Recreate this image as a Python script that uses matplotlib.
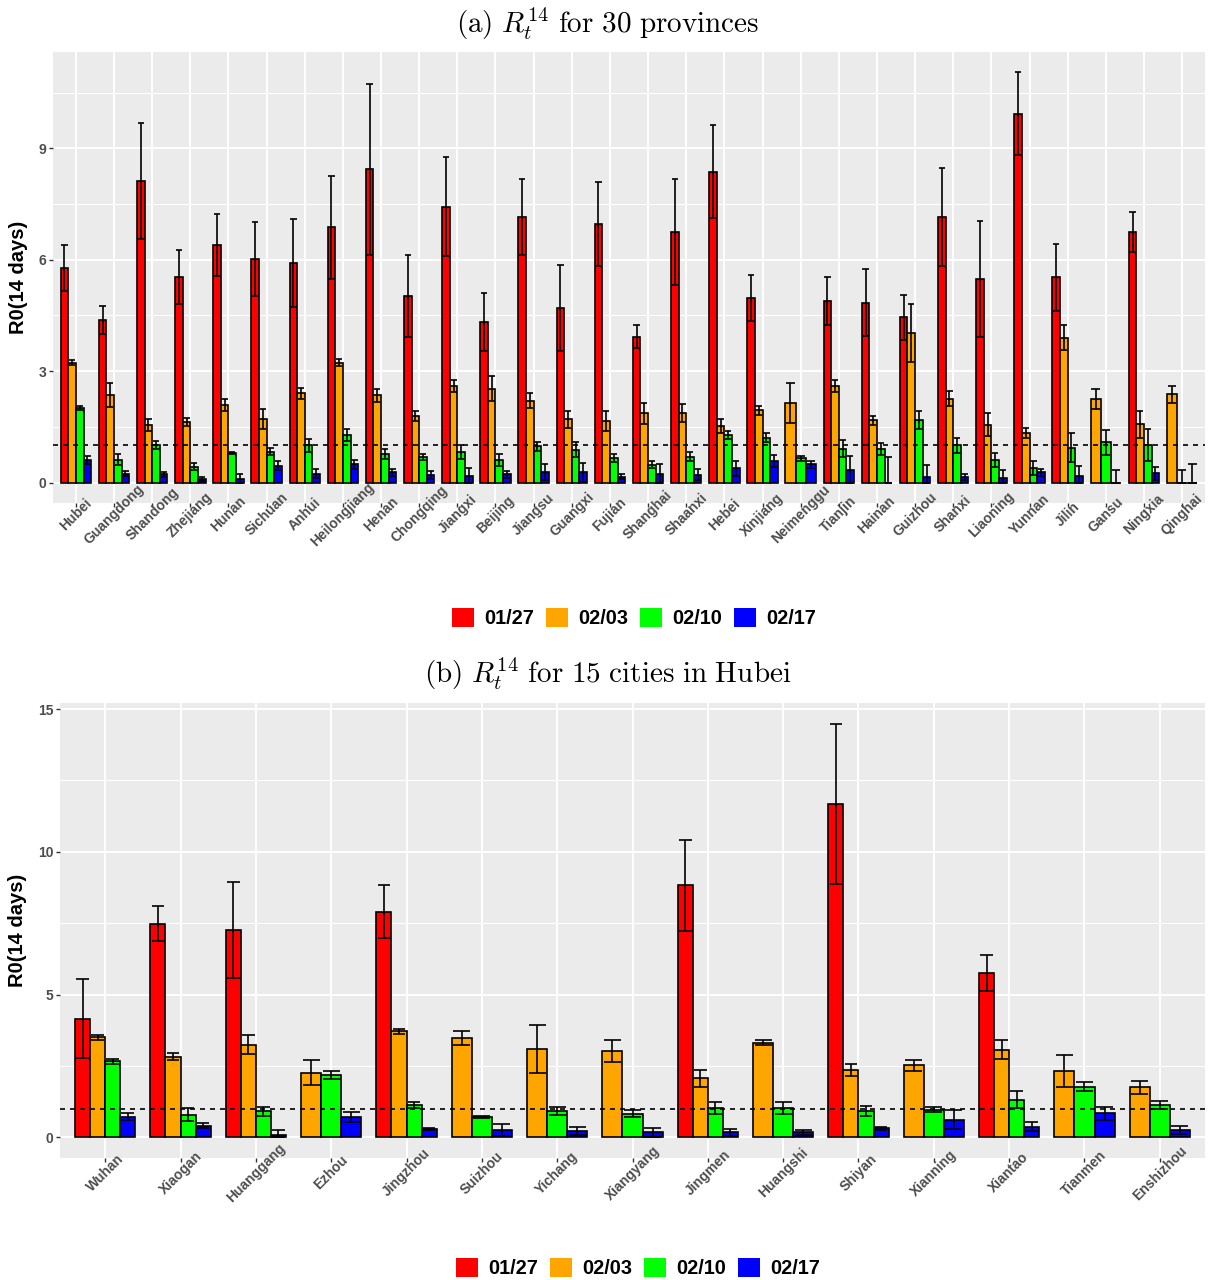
import matplotlib
matplotlib.use("Agg")
import matplotlib.pyplot as plt
from matplotlib.patches import Patch

plt.rcParams['font.family'] = ['Liberation Sans', 'DejaVu Sans']
plt.rcParams['mathtext.fontset'] = 'cm'

# data: (a) 30 provinces
provinces = ["Hubei", "Guangdong", "Shandong", "Zhejiang", "Hunan", "Sichuan", "Anhui",
             "Heilongjiang", "Henan", "Chongqing", "Jiangxi", "Beijing", "Jiangsu", "Guangxi",
             "Fujian", "Shanghai", "Shaanxi", "Hebei", "Xinjiang", "Neimenggu", "Tianjin",
             "Hainan", "Guizhou", "Shanxi", "Liaoning", "Yunnan", "Jilin", "Gansu", "Ningxia",
             "Qinghai"]
prov_0127 = [5.77, 4.37, 8.12, 5.53, 6.39, 6.02, 5.91, 6.87, 8.43, 5.02, 7.43, 4.32, 7.15, 4.71,
             6.97, 3.93, 6.74, 8.37, 4.97, None, 4.88, 4.84, 4.45, 7.15, 5.47, 9.93, 5.53, None,
             6.75, None]
prov_0127_err = [0.62, 0.38, 1.56, 0.73, 0.83, 1.0, 1.19, 1.39, 2.3, 1.11, 1.33, 0.77, 1.02, 1.16,
                 1.13, 0.3, 1.42, 1.25, 0.62, None, 0.65, 0.9, 0.61, 1.31, 1.56, 1.11, 0.9, None,
                 0.53, None]
prov_0203 = [3.23, 2.36, 1.55, 1.63, 2.09, 1.70, 2.40, 3.23, 2.35, 1.79, 2.60, 2.53, 2.20, 1.70,
             1.66, 1.86, 1.88, 1.52, 1.94, 2.14, 2.60, 1.68, 4.03, 2.26, 1.56, 1.34, 3.90, 2.25,
             1.57, 2.37]
prov_0203_err = [0.07, 0.33, 0.17, 0.12, 0.17, 0.27, 0.15, 0.1, 0.18, 0.14, 0.16, 0.34, 0.2, 0.23,
                 0.27, 0.28, 0.24, 0.18, 0.12, 0.53, 0.16, 0.12, 0.78, 0.21, 0.32, 0.14, 0.34, 0.26,
                 0.36, 0.23]
prov_0210 = [2.0, 0.61, 1.01, 0.43, 0.79, 0.83, 1.0, 1.27, 0.76, 0.69, 0.82, 0.61, 0.97, 0.88,
             0.66, 0.48, 0.69, 1.27, 1.21, 0.65, 0.91, 0.91, 1.68, 1.0, 0.61, 0.39, 0.94, 1.08,
             1.0, 0.0]
prov_0210_err = [0.06, 0.15, 0.1, 0.09, 0.02, 0.09, 0.18, 0.16, 0.14, 0.09, 0.18, 0.17, 0.13, 0.2,
                 0.1, 0.09, 0.12, 0.11, 0.13, 0.07, 0.23, 0.16, 0.25, 0.2, 0.18, 0.2, 0.4, 0.34,
                 0.43, 0.34]
prov_0217 = [0.61, 0.24, 0.22, 0.09, 0.09, 0.45, 0.24, 0.49, 0.27, 0.20, 0.18, 0.22, 0.29, 0.27,
             0.16, 0.23, 0.21, 0.38, 0.57, 0.49, 0.34, 0.0, 0.15, 0.15, 0.13, 0.27, 0.18, 0.0,
             0.25, 0.0]
prov_0217_err = [0.1, 0.07, 0.07, 0.06, 0.13, 0.12, 0.12, 0.12, 0.09, 0.1, 0.22, 0.09, 0.22, 0.25,
                 0.06, 0.26, 0.15, 0.2, 0.16, 0.09, 0.38, 0.7, 0.33, 0.09, 0.2, 0.09, 0.27, 0.34,
                 0.18, 0.49]

# data: (b) 15 cities in Hubei
cities = ["Wuhan", "Xiaogan", "Huanggang", "Ezhou", "Jingzhou", "Suizhou", "Yichang",
          "Xiangyang", "Jingmen", "Huangshi", "Shiyan", "Xianning", "Xiantao", "Tianmen",
          "Enshizhou"]
city_0127 = [4.16, 7.48, 7.27, None, 7.90, None, None, None, 8.83, None, 11.69, None, 5.75,
             None, None]
city_0127_err = [1.38, 0.62, 1.68, None, 0.93, None, None, None, 1.6, None, 2.8, None, 0.64,
                 None, None]
city_0203 = [3.50, 2.82, 3.25, 2.27, 3.71, 3.48, 3.09, 3.03, 2.07, 3.32, 2.37, 2.53, 3.07, 2.33, 1.75]
city_0203_err = [0.09, 0.12, 0.33, 0.44, 0.1, 0.23, 0.84, 0.38, 0.29, 0.09, 0.21, 0.19, 0.34,
                 0.55, 0.24]
city_0210 = [2.66, 0.79, 0.91, 2.18, 1.13, 0.72, 0.91, 0.82, 1.03, 1.03, 0.93, 0.97, 1.32, 1.78, 1.13]
city_0210_err = [0.1, 0.22, 0.16, 0.15, 0.09, 0.03, 0.14, 0.12, 0.2, 0.2, 0.17, 0.08, 0.31,
                 0.16, 0.13]
city_0217 = [0.72, 0.41, 0.09, 0.70, 0.28, 0.26, 0.23, 0.17, 0.17, 0.17, 0.31, 0.62, 0.37, 0.84, 0.27]
city_0217_err = [0.12, 0.1, 0.16, 0.17, 0.03, 0.21, 0.14, 0.15, 0.12, 0.1, 0.06, 0.34, 0.15,
                 0.23, 0.14]

dates = ["01/27", "02/03", "02/10", "02/17"]
colors = ["#FF0000", "#FFA500", "#00FF00", "#0000FF"]
GREY_TXT = "#4D4D4D"


def draw_panel(ax, names, series, errors, yticks, xpad):
	ax.set_facecolor("#EBEBEB")
	for s in ax.spines.values():
		s.set_visible(False)

	top = 0
	for i in range(len(names)):
		present = [k for k in range(4) if series[k][i] is not None]
		w = 0.8 / len(present)
		for j, k in enumerate(present):
			x = i - 0.4 + w * (j + 0.5)
			v = series[k][i]
			e = errors[k][i]
			lo = max(0, v - e)
			hi = v + e
			top = max(top, hi)
			ax.bar(x, v, width=w, color=colors[k], edgecolor="black", linewidth=1.2, zorder=2)
			ax.vlines(x, lo, hi, color="black", linewidth=1.2, zorder=3)
			ax.hlines([lo, hi], x - 0.42 * w, x + 0.42 * w, color="black", linewidth=1.2, zorder=3)

	ax.axhline(1, color="black", linewidth=1.2, linestyle=(0, (3, 3)), zorder=4)

	ax.set_yticks(yticks)
	step = yticks[1] - yticks[0]
	ax.set_yticks([t + step / 2 for t in yticks], minor=True)
	ax.set_xticks(range(len(names)))
	ax.set_xticklabels(names, rotation=45, ha="center", va="center", rotation_mode="anchor")

	# limits after the ticks, ggplot style 5% / 0.6 expansion
	ax.set_xlim(-0.6, len(names) - 0.4)
	ax.set_ylim(-0.05 * top, 1.05 * top)

	ax.grid(which="major", color="white", linewidth=1.4, zorder=0)
	ax.grid(which="minor", axis="y", color="white", linewidth=0.7, zorder=0)
	ax.set_axisbelow(True)
	ax.tick_params(axis="both", which="major", length=2.75, width=1, color="#333333",
				labelsize=10, labelcolor=GREY_TXT)
	ax.tick_params(axis="x", pad=xpad)
	ax.tick_params(axis="y", pad=2)
	ax.tick_params(which="minor", length=0)
	for lab in ax.get_xticklabels() + ax.get_yticklabels():
		lab.set_fontweight("bold")
	ax.set_ylabel("R0(14 days)", fontsize=14.5, fontweight="bold", labelpad=8)


fig = plt.figure(figsize=(12.08, 12.80), dpi=100)

ax_a = fig.add_axes([53 / 1208, 1 - 503 / 1280, 1152 / 1208, 451 / 1280])
draw_panel(ax_a, provinces, [prov_0127, prov_0203, prov_0210, prov_0217],
		[prov_0127_err, prov_0203_err, prov_0210_err, prov_0217_err], [0, 3, 6, 9], 5.5)

ax_b = fig.add_axes([60 / 1208, 1 - 1158 / 1280, 1145 / 1208, 455 / 1280])
draw_panel(ax_b, cities, [city_0127, city_0203, city_0210, city_0217],
		[city_0127_err, city_0203_err, city_0210_err, city_0217_err], [0, 5, 10, 15], 8)

fig.text(0.503, 1 - 24 / 1280, r"$\mathrm{(a)}\ R_t^{14}\ \mathrm{for\ 30\ provinces}$",
		ha="center", va="center", fontsize=21)
fig.text(0.503, 1 - 674 / 1280, r"$\mathrm{(b)}\ R_t^{14}\ \mathrm{for\ 15\ cities\ in\ Hubei}$",
		ha="center", va="center", fontsize=21)

handles = [Patch(facecolor=c, edgecolor="none") for c in colors]
for yc, xc in [(618, 634), (1268, 638)]:
	leg = fig.legend(handles, dates, loc="center", bbox_to_anchor=(xc / 1208, 1 - yc / 1280),
			ncol=4, frameon=False, handlelength=1.1, handleheight=1.1, handletextpad=0.5,
			columnspacing=0.6, prop={"size": 14.4, "weight": "bold"})

fig.savefig("out.png", dpi=100)
